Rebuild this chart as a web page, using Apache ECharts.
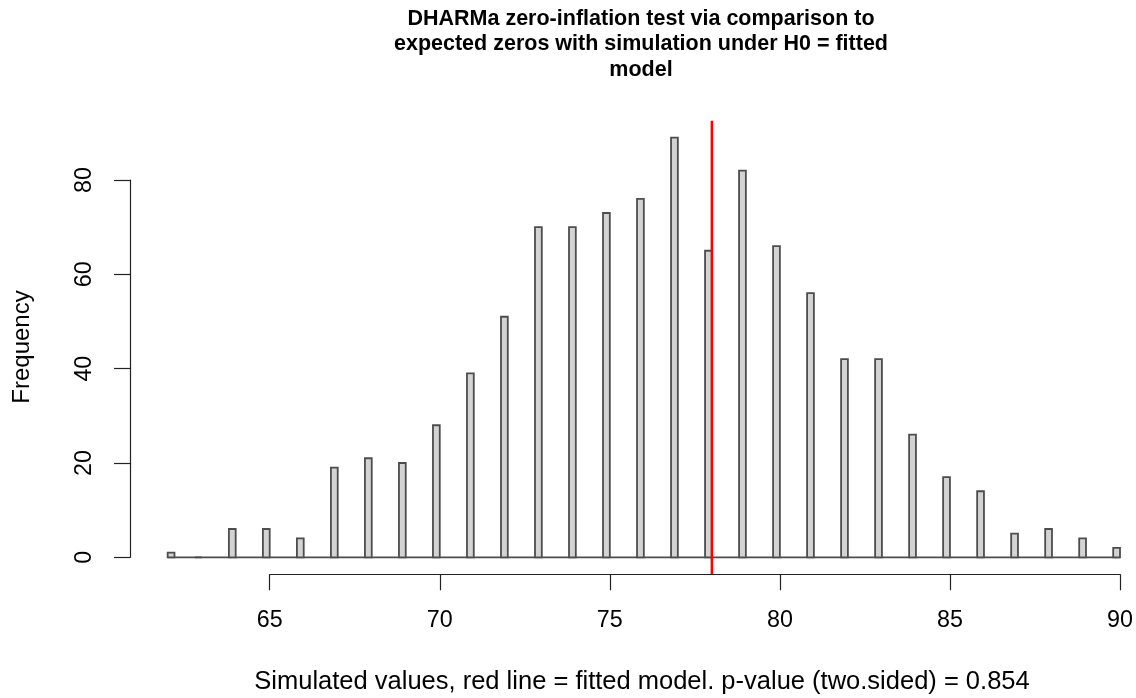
<!DOCTYPE html>
<html>
<head>
<meta charset="utf-8">
<script src="https://cdn.jsdelivr.net/npm/echarts@6/dist/echarts.min.js"></script>
<style>
  html, body { margin: 0; padding: 0; background: #fff; }
  #chart { width: 1136px; height: 698px; }
</style>
</head>
<body>
<div id="chart"></div>
<script>
// Simulated number of zeros (bin values) and how often each occurred
const simValues = [62, 63, 64, 65, 66, 67, 68, 69, 70, 71, 72, 73, 74, 75, 76,
                   77, 78, 79, 80, 81, 82, 83, 84, 85, 86, 87, 88, 89, 90];
const frequencies = [1, 0, 6, 6, 4, 19, 21, 20, 28, 39, 51, 70, 70, 73, 76,
                     89, 65, 82, 66, 56, 42, 42, 26, 17, 14, 5, 6, 4, 2];
// Observed zeros in the fitted model
const observedZeros = 78;
// Axis ticks
const xTicks = [65, 70, 75, 80, 85, 90];
const yTicks = [0, 20, 40, 60, 80];

// Histogram breaks are 0.2 apart; bins are right-closed, the first one also
// holds its lower edge.
const binWidth = 0.2;
const titleText = 'DHARMa zero-inflation test via comparison to\nexpected zeros with simulation under H0 = fitted\nmodel';
const xLabel = 'Simulated values, red line = fitted model. p-value (two.sided) = 0.854';
const yLabel = 'Frequency';

const FONT = '"Liberation Sans", Arial, sans-serif';
const BAR_STROKE = '#4d4d4d';
const maxCount = Math.max(...frequencies);
const yLo = -0.04 * maxCount;
const yHi = 1.04 * maxCount;

const barData = simValues.map((v, i) => [v, frequencies[i], i === 0 ? 1 : 0]);

const chart = echarts.init(document.getElementById('chart'), null, { renderer: 'canvas' });

chart.setOption({
  backgroundColor: '#ffffff',
  animation: false,
  grid: { left: 269.7, right: 16, top: 180, bottom: 140.7, containLabel: false },
  xAxis: {
    type: 'value',
    min: xTicks[0],
    max: xTicks[xTicks.length - 1],
    interval: 5,
    offset: 17,
    axisLine: { show: true, onZero: false, lineStyle: { color: '#222', width: 1.2 } },
    axisTick: { show: true, length: 16, lineStyle: { color: '#222', width: 1.2 } },
    axisLabel: { color: '#000', fontSize: 23.3, fontFamily: FONT, margin: 35 },
    splitLine: { show: false }
  },
  yAxis: {
    type: 'value',
    min: yTicks[0],
    max: yTicks[yTicks.length - 1],
    interval: 20,
    offset: 139.7,
    axisLine: { show: true, lineStyle: { color: '#222', width: 1.2 } },
    axisTick: { show: true, length: 16, lineStyle: { color: '#222', width: 1.2 } },
    axisLabel: {
      color: '#000', fontSize: 23.3, fontFamily: FONT, rotate: 90, margin: 34,
      verticalAlign: 'bottom', align: 'center'
    },
    splitLine: { show: false }
  },
  graphic: [
    {
      type: 'text', x: 641, y: 6,
      style: {
        text: titleText, font: 'bold 21.5px ' + FONT, fill: '#000',
        textAlign: 'center', lineHeight: 25.5
      }
    },
    {
      type: 'text', x: 642, y: 682,
      style: {
        text: xLabel, font: '25.5px ' + FONT, fill: '#000',
        textAlign: 'center', textVerticalAlign: 'middle'
      }
    },
    {
      type: 'text', x: 22, y: 347, rotation: Math.PI / 2,
      style: {
        text: yLabel, font: '24px ' + FONT, fill: '#000',
        textAlign: 'center', textVerticalAlign: 'middle'
      }
    }
  ],
  series: [
    {
      // histogram baseline running under the whole set of bins
      type: 'custom',
      data: [[simValues[0], simValues[simValues.length - 1]]],
      clip: false,
      silent: true,
      z: 1,
      renderItem: function (params, api) {
        const a = api.coord([api.value(0), 0]);
        const b = api.coord([api.value(1), 0]);
        return {
          type: 'line',
          shape: { x1: a[0], y1: a[1], x2: b[0], y2: b[1] },
          style: { stroke: BAR_STROKE, lineWidth: 1.8 }
        };
      }
    },
    {
      type: 'custom',
      data: barData,
      clip: false,
      z: 2,
      renderItem: function (params, api) {
        const v = api.value(0);
        const n = api.value(1);
        const first = api.value(2) === 1;
        const lo = first ? v : v - binWidth;
        const hi = first ? v + binWidth : v;
        const p0 = api.coord([lo, n]);
        const p1 = api.coord([hi, 0]);
        return {
          type: 'rect',
          shape: { x: p0[0], y: p0[1], width: p1[0] - p0[0], height: p1[1] - p0[1] },
          style: { fill: '#d3d3d3', stroke: BAR_STROKE, lineWidth: 1.8 }
        };
      }
    },
    {
      // observed value of the fitted model
      type: 'custom',
      data: [[observedZeros, yLo, yHi]],
      clip: false,
      z: 3,
      renderItem: function (params, api) {
        const top = api.coord([api.value(0), api.value(2)]);
        const bot = api.coord([api.value(0), api.value(1)]);
        return {
          type: 'line',
          shape: { x1: top[0], y1: top[1], x2: bot[0], y2: bot[1] },
          style: { stroke: '#ff0000', lineWidth: 2.5 }
        };
      }
    }
  ]
});
</script>
</body>
</html>
